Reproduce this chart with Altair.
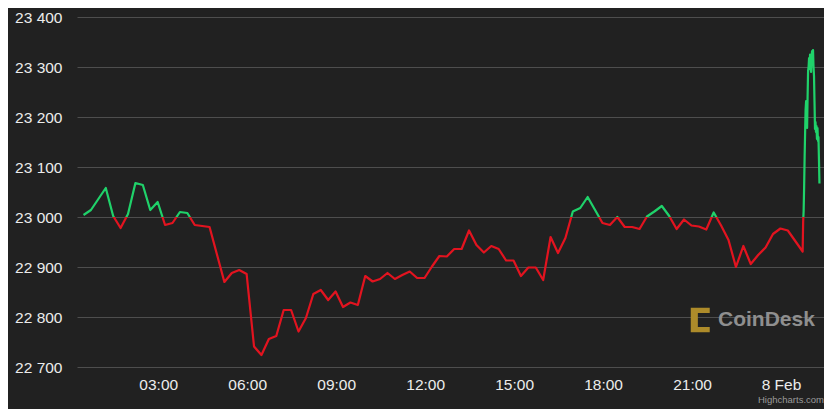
import json
import altair as alt
import pandas as pd

# ---- data (BTC price, 15-minute steps, then 1-minute tail) ----
price_15m = [
    23004, 23014, 23036, 23058, 23002, 22978, 23006, 23068, 23064, 23014,
    23030, 22984, 22988, 23010, 23008, 22984, 22982, 22980, 22925, 22870,
    22888, 22894, 22886, 22741, 22724, 22756, 22762, 22814, 22814, 22771,
    22798, 22846, 22854, 22834, 22851, 22820, 22829, 22824, 22882, 22871,
    22876, 22888, 22876, 22884, 22891, 22878, 22878, 22901, 22922, 22921,
    22936, 22936, 22973, 22944, 22929, 22942, 22936, 22913, 22913, 22882,
    22899, 22899, 22874, 22960, 22928, 22958, 23011, 23018, 23040, 23014,
    22988, 22984, 23000, 22980, 22980, 22976, 23001, 23011, 23022, 23002,
    22976, 22995, 22983, 22981, 22975, 23009, 22983, 22954, 22900, 22942,
    22906, 22924, 22939, 22966, 22977, 22973, 22952, 22931,
]
start_hour = 0.48          # first sample, hours after 7 Feb 00:00
step_hours = 0.25          # 15-minute sampling

fine_minutes = list(range(1, 35))
fine_values = [
    22990, 23012, 23060, 23120, 23170, 23215, 23232, 23190, 23178, 23240,
    23292, 23300, 23318, 23296, 23325, 23305, 23290, 23318, 23332, 23322,
    23334, 23300, 23282, 23230, 23176, 23190, 23170, 23182, 23156, 23178,
    23152, 23160, 23115, 23067,
]

y_ticks = [22700, 22800, 22900, 23000, 23100, 23200, 23300, 23400]
x_tick_hours = [3, 6, 9, 12, 15, 18, 21, 24]
x_tick_labels = ["03:00", "06:00", "09:00", "12:00", "15:00", "18:00", "21:00", "8 Feb"]
threshold = 23000

# ---- build table ----
hours = [start_hour + step_hours * i for i in range(len(price_15m))]
last_hour = hours[-1]
hours += [last_hour + m / 60.0 for m in fine_minutes]
prices = price_15m + fine_values
df = pd.DataFrame({"hour": hours, "price": prices})

vmax, vmin = max(prices), min(prices)
cut = (vmax - threshold) / (vmax - vmin)

GREEN = "#1fd26a"
RED = "#e3131f"
BG = "#212121"
GRID = "#4e4e4e"
TEXT = "#ececec"
FONT = "Liberation Sans"

stroke = alt.Gradient(
    gradient="linear",
    stops=[
        alt.GradientStop(color=GREEN, offset=0),
        alt.GradientStop(color=GREEN, offset=cut),
        alt.GradientStop(color=RED, offset=cut),
        alt.GradientStop(color=RED, offset=1),
    ],
    x1=0, x2=0, y1=0, y2=1,
)

x_label_expr = f"{json.dumps(x_tick_labels)}[indexof({json.dumps(x_tick_hours)}, datum.value)]"

line = alt.Chart(df).mark_line(strokeWidth=2.2, color=stroke, strokeJoin="round").encode(
    x=alt.X(
        "hour:Q",
        scale=alt.Scale(domain=[0.26, 25.45], nice=False, zero=False),
        axis=alt.Axis(
            values=x_tick_hours, labelExpr=x_label_expr, grid=False, ticks=False,
            tickSize=0, domain=False, labelPadding=10, title=None,
            labelFont=FONT, labelFontSize=15.5, labelColor=TEXT, labelFlush=False,
        ),
    ),
    y=alt.Y(
        "price:Q",
        scale=alt.Scale(domain=[22700, 23400], nice=False, zero=False),
        axis=alt.Axis(
            values=y_ticks, labelExpr="replace(format(datum.value, ','), ',', ' ')",
            grid=True, gridColor=GRID, gridWidth=1, ticks=False, tickSize=0,
            domain=False, labelPadding=15, title=None,
            labelFont=FONT, labelFontSize=15.5, labelColor=TEXT,
        ),
    ),
)

one = pd.DataFrame({"t": ["CoinDesk"]})
brand = alt.Chart(one).mark_text(
    align="left", baseline="middle", font=FONT, fontSize=21, fontWeight="bold", color="#8f8f8f"
).encode(x=alt.value(641), y=alt.value(303), text="t:N")

icon = alt.Chart(one).mark_point(
    shape="M -1 -1 L 0.55 -1 L 0.55 -0.58 L -0.42 -0.58 L -0.42 0.58 L 0.55 0.58 L 0.55 1 L -1 1 Z",
    filled=True, opacity=1, color="#ad8b2a", size=600,
).encode(x=alt.value(626), y=alt.value(303))

credit = alt.Chart(pd.DataFrame({"t": ["Highcharts.com"]})).mark_text(
    align="right", baseline="alphabetic", font=FONT, fontSize=9.5, color="#9a9a9a"
).encode(x=alt.value(747), y=alt.value(386), text="t:N")

chart = alt.layer(line, icon, brand, credit).properties(
    width=747,
    height=350,
    padding={"left": 69, "top": 9, "right": 0, "bottom": 42},
    autosize=alt.AutoSizeParams(type="none"),
    background=BG,
).configure_view(stroke=None)

chart.save("out.html", embed_options={"renderer": "svg", "actions": False})
